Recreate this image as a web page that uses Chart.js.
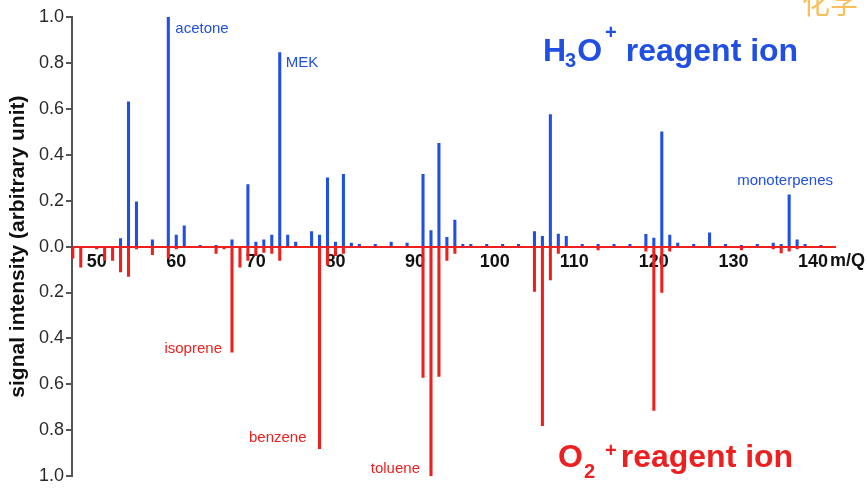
<!DOCTYPE html>
<html>
<head>
<meta charset="utf-8">
<script src="https://cdn.jsdelivr.net/npm/chart.js@4.4.1/dist/chart.umd.min.js"></script>
<style>
  html, body { margin: 0; padding: 0; background: #ffffff; }
  #wrap { width: 867px; height: 489px; position: relative; }
</style>
</head>
<body>
<div id="wrap"><canvas id="c" width="867" height="489"></canvas></div>
<script>
// ---- data ----
const h3oMass   = [53, 54, 55, 57, 59, 60, 61, 63, 65, 67, 69, 70, 71, 72, 73, 74, 75, 77, 78, 79, 80, 81, 82, 83, 85, 87, 89, 91, 92, 93, 94, 95, 96, 97, 99, 101, 103, 105, 106, 107, 108, 109, 111, 113, 115, 117, 119, 120, 121, 122, 123, 125, 127, 129, 131, 133, 135, 136, 137, 138, 139, 141];
const h3oSignal = [0.035, 0.63, 0.195, 0.03, 1.0, 0.05, 0.09, 0.005, 0.005, 0.03, 0.27, 0.02, 0.03, 0.05, 0.845, 0.05, 0.02, 0.065, 0.05, 0.30, 0.02, 0.315, 0.015, 0.01, 0.01, 0.02, 0.015, 0.315, 0.07, 0.45, 0.04, 0.115, 0.01, 0.01, 0.01, 0.01, 0.01, 0.065, 0.045, 0.575, 0.055, 0.045, 0.01, 0.01, 0.01, 0.01, 0.053, 0.037, 0.50, 0.05, 0.015, 0.01, 0.06, 0.01, 0.005, 0.01, 0.015, 0.01, 0.226, 0.03, 0.01, 0.005];

const o2Mass   = [47, 48, 50, 51, 52, 53, 54, 55, 57, 59, 60, 63, 65, 66, 67, 68, 69, 70, 71, 72, 73, 75, 77, 78, 79, 80, 81, 83, 85, 87, 89, 91, 92, 93, 94, 95, 97, 99, 101, 103, 105, 106, 107, 108, 109, 111, 113, 115, 117, 119, 120, 121, 122, 127, 129, 131, 133, 135, 136, 137, 138, 140];
const o2Signal = [0.05, 0.09, 0.01, 0.06, 0.06, 0.11, 0.13, 0.01, 0.035, 0.05, 0.01, 0.005, 0.03, 0.01, 0.46, 0.09, 0.06, 0.04, 0.025, 0.03, 0.06, 0.005, 0.005, 0.88, 0.08, 0.04, 0.03, 0.005, 0.005, 0.005, 0.005, 0.57, 1.0, 0.565, 0.06, 0.03, 0.005, 0.005, 0.005, 0.005, 0.195, 0.78, 0.145, 0.03, 0.005, 0.005, 0.015, 0.005, 0.005, 0.02, 0.713, 0.2, 0.02, 0.005, 0.005, 0.015, 0.005, 0.01, 0.027, 0.02, 0.01, 0.005];

const xTickValues = [50, 60, 70, 80, 90, 100, 110, 120, 130, 140];
const yTickValues = [-1.0, -0.8, -0.6, -0.4, -0.2, 0.0, 0.2, 0.4, 0.6, 0.8, 1.0];

const BLUE = '#1f4fe3';
const RED = '#ee1f1f';
const FONT = "'Liberation Sans', Arial, Helvetica, sans-serif";

const h3oData = h3oMass.map((m, i) => ({ x: m, y: h3oSignal[i] }));
const o2Data = o2Mass.map((m, i) => ({ x: m, y: -o2Signal[i] }));

const textPlugin = {
  id: 'texts',
  afterDraw(chart) {
    const ctx = chart.ctx;
    const xs = chart.scales.x, ys = chart.scales.y;
    ctx.save();
    // peak labels
    const labels = [
      { t: 'acetone', m: 59, v: 0.95, dx: 7, align: 'left', c: BLUE },
      { t: 'MEK', m: 73, v: 0.80, dx: 6, align: 'left', c: BLUE },
      { t: 'monoterpenes', m: 137, v: 0.285, dx: -52, align: 'left', c: BLUE },
      { t: 'isoprene', m: 67, v: -0.445, dx: -10, align: 'right', c: RED },
      { t: 'benzene', m: 78, v: -0.835, dx: -13, align: 'right', c: RED },
      { t: 'toluene', m: 92, v: -0.97, dx: -11, align: 'right', c: RED }
    ];
    ctx.font = '15px ' + FONT;
    ctx.textBaseline = 'middle';
    labels.forEach(l => {
      ctx.fillStyle = l.c;
      ctx.textAlign = l.align;
      ctx.fillText(l.t, xs.getPixelForValue(l.m) + l.dx, ys.getPixelForValue(l.v));
    });

    // x-axis unit label
    ctx.fillStyle = '#111';
    ctx.font = 'bold 18px ' + FONT;
    ctx.textAlign = 'left';
    ctx.textBaseline = 'middle';
    ctx.fillText('m/Q', 830, ys.getPixelForValue(0) + 14);

    // reagent ion titles
    function piece(txt, x, y, size, color) {
      ctx.font = 'bold ' + size + 'px ' + FONT;
      ctx.fillStyle = color;
      ctx.textAlign = 'left';
      ctx.textBaseline = 'alphabetic';
      ctx.fillText(txt, x, y);
      return x + ctx.measureText(txt).width;
    }
    let x = 543;
    x = piece('H', x, 61, 32, BLUE);
    x = piece('3', x - 1, 67, 20, BLUE);
    x = piece('O', x + 1, 61, 32, BLUE);
    x = piece('+', x + 3, 39, 20, BLUE);
    piece(' reagent ion', x, 61, 32, BLUE);

    x = 558;
    x = piece('O', x, 467, 32, RED);
    x = piece('2', x + 1, 478, 20, RED);
    x = piece('+', x + 10, 457, 20, RED);
    piece('reagent ion', x + 4, 467, 32, RED);

    // watermark
    ctx.font = "28px 'Noto Sans CJK SC', sans-serif";
    ctx.fillStyle = 'rgba(247, 180, 60, 0.85)';
    ctx.textAlign = 'left';
    ctx.textBaseline = 'alphabetic';
    ctx.fillText('化学', 802, 14);
    ctx.restore();
  }
};

new Chart(document.getElementById('c'), {
  type: 'bar',
  data: {
    datasets: [
      { label: 'H3O+', data: h3oData, backgroundColor: BLUE, borderWidth: 0, barThickness: 2.4, grouped: false },
      { label: 'O2+', data: o2Data, backgroundColor: RED, borderWidth: 0, barThickness: 2.4, grouped: false }
    ]
  },
  options: {
    responsive: false,
    animation: false,
    devicePixelRatio: 1,
    layout: { padding: { left: 0, right: 32, top: 17, bottom: 10 } },
    plugins: { legend: { display: false }, tooltip: { enabled: false } },
    scales: {
      x: {
        type: 'linear',
        position: { y: 0 },
        min: 46.9,
        max: 142.76,
        offset: false,
        afterBuildTicks: s => { s.ticks = xTickValues.map(v => ({ value: v })); },
        grid: { display: false, drawTicks: false },
        border: { display: true, color: RED, width: 2 },
        ticks: { padding: 5, color: '#111', font: { family: FONT, size: 18, weight: 'bold' }, maxRotation: 0, autoSkip: false }
      },
      y: {
        type: 'linear',
        min: -1,
        max: 1,
        afterBuildTicks: s => { s.ticks = yTickValues.map(v => ({ value: v })); },
        afterFit: s => { s.width = 72; },
        grid: { display: true, drawOnChartArea: false, drawTicks: true, tickLength: 6, color: '#555', lineWidth: 2 },
        border: { display: true, color: '#555', width: 2 },
        ticks: {
          padding: 2,
          color: '#2a2a2a',
          font: { family: FONT, size: 18 },
          callback: v => Math.abs(v).toFixed(1)
        },
        title: {
          display: true,
          text: 'signal intensity (arbitrary unit)',
          color: '#111',
          font: { family: FONT, size: 21, weight: 'bold' },
          padding: { top: 6, bottom: 2 }
        }
      }
    }
  },
  plugins: [textPlugin]
});
</script>
</body>
</html>
